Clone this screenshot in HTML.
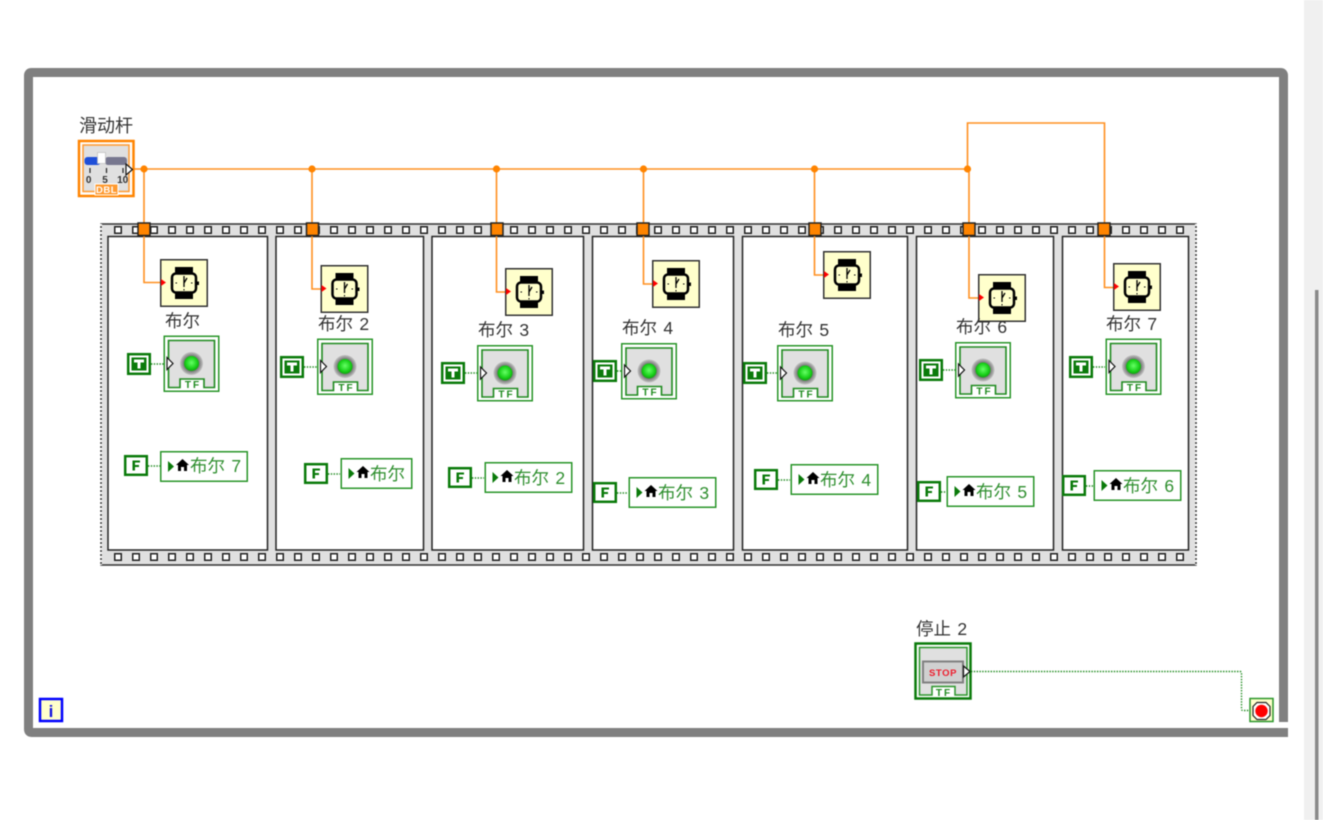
<!DOCTYPE html>
<html lang="zh">
<head>
<meta charset="utf-8">
<title>LabVIEW block diagram</title>
<style>
html,body{margin:0;padding:0;background:#fff;width:1323px;height:820px;overflow:hidden}
svg{display:block;filter:blur(.45px)}
text{font-family:"Liberation Sans","Noto Sans CJK SC",sans-serif}
.lb{font-size:17.5px;fill:#333;word-spacing:1.5px}
.lv{font-size:17.5px;fill:#2f8f2f;word-spacing:1.5px}
.w{fill:none;stroke:#ff9020;stroke-width:1.6}
.d{fill:#ff8400}
.g{fill:none;stroke:#1e8a1e;stroke-width:1.4;stroke-dasharray:1.4 1.4}
.tl{font-size:10px;font-weight:bold;fill:#1e8a1e;letter-spacing:2px;text-anchor:middle}
</style>
</head>
<body>
<svg width="1323" height="820" viewBox="0 0 1323 820" xmlns="http://www.w3.org/2000/svg">
<defs>
<pattern id="holesT" x="114" y="226" width="18" height="8" patternUnits="userSpaceOnUse">
<rect x=".75" y=".75" width="6.5" height="6.5" fill="#fff" stroke="#222" stroke-width="1.5"/>
</pattern>
<pattern id="holesB" x="114" y="553" width="18" height="8" patternUnits="userSpaceOnUse">
<rect x=".75" y=".75" width="6.5" height="6.5" fill="#fff" stroke="#222" stroke-width="1.5"/>
</pattern>
<radialGradient id="led" cx=".5" cy=".45" r=".55"><stop offset="0" stop-color="#66ff66"/><stop offset=".7" stop-color="#18d018"/><stop offset="1" stop-color="#12a012"/></radialGradient>
<radialGradient id="halo"><stop offset=".65" stop-color="#777"/><stop offset="1" stop-color="#c4c4c4"/></radialGradient>

<g id="clock">
<rect x=".75" y=".75" width="46.5" height="46.5" fill="#ffffcc" stroke="#333" stroke-width="1.5"/>
<rect x="15" y="8" width="18" height="8" fill="#000"/>
<rect x="15" y="32" width="18" height="8" fill="#000"/>
<rect x="12" y="14.5" width="24" height="19" rx="4" fill="#ffffcc" stroke="#000" stroke-width="2.5"/>
<rect x="36.500" y="22.5" width="2.500" height="3.500" fill="#000"/>
<path d="M24 17v7l3-5M24 24v4" stroke="#000" stroke-width="1.300" fill="none"/>
<path d="M15.500 24h1.500M31 24h1.500M24 30v1.500" stroke="#000" stroke-width="1"/>
<path d="M1 20l5 3.500-5 3.500z" fill="#ff0000"/>
</g>

<g id="ind">
<rect x=".75" y=".75" width="54.500" height="55" fill="#fff" stroke="#2a962a" stroke-width="1.5"/>
<path d="M5 52V5H51V52H40.500V43.500H16.500V52Z" fill="#e0e0e0" stroke="#1e8a1e" stroke-width="1.600"/>
<text class="tl" x="29.500" y="52.500">TF</text>
<circle cx="28" cy="28" r="11.500" fill="url(#halo)"/>
<circle cx="28" cy="28" r="7.500" fill="url(#led)"/>
<path d="M3.500 22l6 6-6 6z" fill="#fff" stroke="#111" stroke-width="1.200"/>
</g>

<g id="tc">
<rect x="1.200" y="1.200" width="21.600" height="19.600" fill="#fff" stroke="#0a7a0a" stroke-width="2.500"/>
<rect x="4.500" y="4.500" width="15" height="13" fill="#0a7a0a"/>
<path d="M7 6.500h10v3h-3.500v6h-3v-6H7z" fill="#fff"/>
</g>
<g id="fc">
<rect x="1.200" y="1.200" width="21.600" height="18.600" fill="#fff" stroke="#0a7a0a" stroke-width="2.500"/>
<path d="M8.500 5.500h7.500v2H11v2.500h4v2h-4v3.500H8.500z" fill="#0a7a0a"/>
</g>
<g id="loc">
<rect x=".75" y=".75" width="86.500" height="29.500" fill="#fff" stroke="#2a962a" stroke-width="1.500"/>
<path d="M8 10l6 5.500-6 5.500z" fill="#0a7a0a"/>
<path d="M22.500 8l6.500 6H27v6h-3v-4h-3v4h-3v-6h-2z" fill="#000"/>
</g>
<g id="locS">
<rect x=".75" y=".75" width="70.500" height="29.500" fill="#fff" stroke="#2a962a" stroke-width="1.500"/>
<path d="M8 10l6 5.500-6 5.500z" fill="#0a7a0a"/>
<path d="M22.500 8l6.500 6H27v6h-3v-4h-3v4h-3v-6h-2z" fill="#000"/>
</g>
</defs>

<!-- scrollbar -->
<rect x="1304" y="0" width="19" height="820" fill="#f0f0f0"/>
<rect x="1315" y="290" width="3.500" height="530" fill="#8a8a8a"/>

<!-- while loop -->
<path d="M1283.500 722V75.500q0-3-3-3H31.500q-3 0-3 3V729q0 3.500 3 3.500H1288" fill="none" stroke="#808080" stroke-width="9"/>

<!-- sequence structure -->
<rect x="101" y="224" width="1095" height="341" fill="#e0e0e0" stroke="#333" stroke-width="1.500"/>
<path d="M101 224v341M1196 224v341" stroke="#fff" stroke-width="2" stroke-dasharray="2 2"/>
<g fill="#fff" stroke="#222" stroke-width="1.500">
<rect x="108" y="236.500" width="159.500" height="313.500"/>
<rect x="276" y="236.500" width="147.500" height="313.500"/>
<rect x="432" y="236.500" width="151.500" height="313.500"/>
<rect x="592.500" y="236.500" width="141" height="313.500"/>
<rect x="742.500" y="236.500" width="165" height="313.500"/>
<rect x="916.500" y="236.500" width="137" height="313.500"/>
<rect x="1062.500" y="236.500" width="126" height="313.500"/>
</g>
<rect x="114" y="226" width="1072" height="8" fill="url(#holesT)"/>
<rect x="114" y="553" width="1072" height="8" fill="url(#holesB)"/>

<!-- orange wires -->
<path class="w" d="M130 169H968"/>
<path class="w" d="M144 169V282.500H162"/>
<path class="w" d="M312 169V289H322"/>
<path class="w" d="M496.500 169V292H506"/>
<path class="w" d="M643.500 169V284H653"/>
<path class="w" d="M814.500 169V275H824"/>
<path class="w" d="M967.500 169l1.500 3V298H979"/>
<path class="w" d="M967.500 169V123H1104.500V287.500H1114"/>
<circle class="d" cx="144" cy="169" r="3.600"/>
<circle class="d" cx="312" cy="169" r="3.600"/>
<circle class="d" cx="496.500" cy="169" r="3.600"/>
<circle class="d" cx="643.500" cy="169" r="3.600"/>
<circle class="d" cx="814.500" cy="169" r="3.600"/>
<circle class="d" cx="967.500" cy="169" r="3.600"/>

<!-- tunnels -->
<g fill="#ff8400" stroke="#222" stroke-width="1.500">
<rect x="138" y="223" width="12" height="12.500"/>
<rect x="306.500" y="223" width="12" height="12.500"/>
<rect x="491" y="223" width="12" height="12.500"/>
<rect x="637" y="223" width="12" height="12.500"/>
<rect x="809" y="223" width="12" height="12.500"/>
<rect x="963" y="223" width="12" height="12.500"/>
<rect x="1098" y="223" width="12" height="12.500"/>
</g>

<!-- clocks -->
<use href="#clock" transform="translate(160 259)"/>
<use href="#clock" transform="translate(320.500 265)"/>
<use href="#clock" transform="translate(505 268)"/>
<use href="#clock" transform="translate(652 260)"/>
<use href="#clock" transform="translate(823 251)"/>
<use href="#clock" transform="translate(978 274)"/>
<use href="#clock" transform="translate(1113 263)"/>

<!-- labels -->
<text class="lb" x="79" y="132" style="font-size:18px">滑动杆</text>
<text class="lb" x="165" y="327">布尔</text>
<text class="lb" x="318" y="330">布尔 2</text>
<text class="lb" x="478" y="336">布尔 3</text>
<text class="lb" x="622" y="334">布尔 4</text>
<text class="lb" x="778" y="336">布尔 5</text>
<text class="lb" x="956" y="333">布尔 6</text>
<text class="lb" x="1106" y="330">布尔 7</text>
<text class="lb" x="916" y="635">停止 2</text>

<!-- dotted wires -->
<path class="g" d="M151 364H164M304 367H317M465 373H477M617 371H621M767 373H777M943 370H955M1093 367H1105"/>
<path class="g" d="M148 466H160M328 474H340M472 478H484M617 493H628M778 480H790M941 492H946M1086 486H1093"/>
<path class="g" d="M971 671.500H1240q1.500 0 1.500 1.500V709q0 1.500 1.500 1.500H1250"/>

<!-- indicators -->
<use href="#ind" transform="translate(163.500 335.500)"/>
<use href="#ind" transform="translate(317 338.500)"/>
<use href="#ind" transform="translate(477 345)"/>
<use href="#ind" transform="translate(621 343)"/>
<use href="#ind" transform="translate(777 345)"/>
<use href="#ind" transform="translate(955 342)"/>
<use href="#ind" transform="translate(1105.500 338.500)"/>

<!-- true constants -->
<use href="#tc" transform="translate(127 353)"/>
<use href="#tc" transform="translate(280 356)"/>
<use href="#tc" transform="translate(441 362)"/>
<use href="#tc" transform="translate(593 360)"/>
<use href="#tc" transform="translate(743 362)"/>
<use href="#tc" transform="translate(919 359)"/>
<use href="#tc" transform="translate(1069 356)"/>

<!-- false constants -->
<use href="#fc" transform="translate(124 455)"/>
<use href="#fc" transform="translate(304 463)"/>
<use href="#fc" transform="translate(448 467)"/>
<use href="#fc" transform="translate(593 482)"/>
<use href="#fc" transform="translate(754 469)"/>
<use href="#fc" transform="translate(917 481)"/>
<use href="#fc" transform="translate(1062 475)"/>

<!-- local variables -->
<use href="#loc" transform="translate(160 451)"/><text class="lv" x="190" y="472">布尔 7</text>
<use href="#locS" transform="translate(340.500 458)"/><text class="lv" x="370" y="480">布尔</text>
<use href="#loc" transform="translate(484.500 462)"/><text class="lv" x="514" y="484">布尔 2</text>
<use href="#loc" transform="translate(628.500 477)"/><text class="lv" x="658" y="499">布尔 3</text>
<use href="#loc" transform="translate(790.500 464)"/><text class="lv" x="820" y="486">布尔 4</text>
<use href="#loc" transform="translate(946.500 476)"/><text class="lv" x="976" y="498">布尔 5</text>
<use href="#loc" transform="translate(1093.500 470)"/><text class="lv" x="1123" y="492">布尔 6</text>

<!-- slider control -->
<rect x="79" y="141" width="54.500" height="55" fill="#fff" stroke="#ff8400" stroke-width="2.500"/>
<rect x="83" y="145" width="46" height="46.500" fill="#e0e0e0" stroke="#ff9a30" stroke-width="1.500"/>
<rect x="84.500" y="157" width="16" height="8" rx="3" fill="#1f4fd8"/>
<rect x="105" y="157" width="22" height="8" rx="3" fill="#77778f"/>
<rect x="97.500" y="152.500" width="8" height="11" fill="#fff" stroke="#bbb" stroke-width=".7"/>
<path d="M90 168v5M106.500 168v5M123 168v5" stroke="#222" stroke-width="1.200"/>
<text x="88.700" y="183" font-size="10" font-weight="bold" fill="#333" text-anchor="middle">0</text>
<text x="105" y="183" font-size="10" font-weight="bold" fill="#333" text-anchor="middle">5</text>
<text x="122.700" y="183" font-size="10" font-weight="bold" fill="#333" text-anchor="middle">10</text>
<rect x="95" y="184" width="23" height="11" fill="#ff9a30" stroke="#fff" stroke-width="1"/>
<text x="106.500" y="193" font-size="9.500" font-weight="bold" fill="#fff" text-anchor="middle" letter-spacing=".5">DBL</text>
<path d="M126 164l6.500 5.500-6.500 5.500z" fill="#fff" stroke="#111" stroke-width="1.200"/>

<!-- stop control -->
<rect x="915.500" y="643.500" width="55" height="55" fill="#fff" stroke="#0a7a0a" stroke-width="2.500"/>
<path d="M919.500 695V647.500H967V695H955V686.500H932V695Z" fill="#e0e0e0" stroke="#2a962a" stroke-width="1.500"/>
<rect x="923" y="661.500" width="40" height="21" fill="#d0d0d0" stroke="#808080" stroke-width="2"/>
<text x="943" y="676" font-size="9.500" font-weight="bold" fill="#ee1c2c" text-anchor="middle" letter-spacing=".6">STOP</text>
<text class="tl" x="944" y="696">TF</text>
<path d="M963.500 666l6.500 5.500-6.500 5.500z" fill="#fff" stroke="#111" stroke-width="1.200"/>

<!-- stop terminal -->
<rect x="1250" y="698.500" width="23" height="23" fill="#ffffcc" stroke="#2a962a" stroke-width="1.500"/>
<path d="M1257 702.500h9l4 4v9l-4 4h-9l-4-4v-9z" fill="#fff" stroke="#222" stroke-width="1.200"/>
<circle cx="1261.500" cy="711" r="6.200" fill="#ff0000"/>

<!-- iteration terminal -->
<rect x="40" y="699" width="22" height="22" fill="#ffffcc" stroke="#0000ff" stroke-width="2.500"/>
<text x="51" y="717" font-size="17" font-weight="bold" fill="#1010e0" text-anchor="middle">i</text>
</svg>
</body>
</html>
